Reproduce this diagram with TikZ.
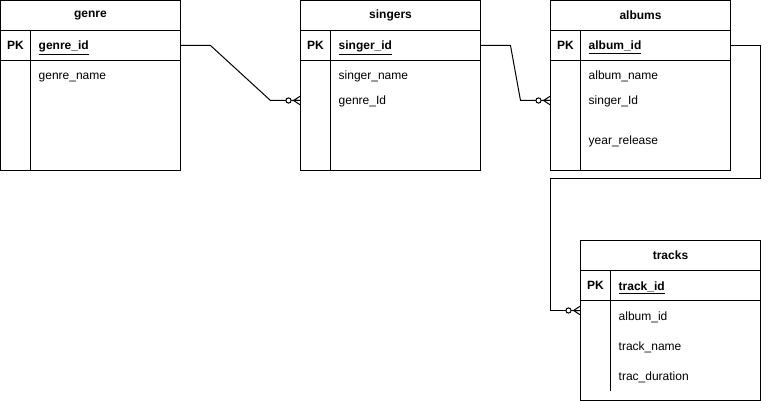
\documentclass[tikz,border=0pt]{standalone}
\usepackage{fontspec}
\setmainfont{Liberation Sans}
\usetikzlibrary{positioning,calc}

\tikzset{
  cell/.style={draw, line width=1pt, inner sep=0pt, outer sep=0pt,
               font=\fontsize{12}{14}\selectfont},
  title/.style={cell, minimum width=180pt, minimum height=30pt, font=\fontsize{12}{14}\selectfont\bfseries},
  pk/.style={cell, minimum width=30pt, minimum height=30pt, font=\fontsize{12}{14}\selectfont\bfseries},
  keycell/.style={cell, minimum width=150pt, minimum height=30pt},
  body/.style={cell, minimum width=180pt},
  field/.style={inner sep=0pt, anchor=base west, font=\fontsize{12}{14}\selectfont},
  keytxt/.style={field, font=\fontsize{12}{14}\selectfont\bfseries},
  link/.style={draw, line width=1pt},
  zeromany/.pic={
    \draw[line width=1pt, fill=white] (-12,0) circle (2.6pt);
    \draw[line width=1pt] (-7,0) -- (0,4.5) (-7,0) -- (0,-4.5) (-7,0) -- (0,0);
  }
}

\begin{document}
\begin{tikzpicture}[x=1pt, y=-1pt]
  \useasboundingbox (0,0) rectangle (769,401);

  % genre
  \node[title] (genre) at (90.5,15.5) {genre};
  \node[pk, below right=0pt and 0pt of genre.south west] (genre-pk) {PK};
  \node[keycell, right=0pt of genre-pk] (genre-key) {};
  \node[keytxt] at ([shift={(8,4.5)}]genre-key.west) {\underline{genre\_id}};
  \node[body, minimum height=110pt, below right=0pt and 0pt of genre-pk.south west] (genre-body) {};
  \draw[line width=1pt] (genre-pk.south east) -- (genre-pk.east |- genre-body.south);
  \node[field] (genre-f1) at ([shift={(38,19.5)}]genre-body.north west) {genre\_name};

  % singers
  \node[title] (singers) at (390.5,15.5) {singers};
  \node[pk, below right=0pt and 0pt of singers.south west] (singers-pk) {PK};
  \node[keycell, right=0pt of singers-pk] (singers-key) {};
  \node[keytxt] at ([shift={(8,4.5)}]singers-key.west) {\underline{singer\_id}};
  \node[body, minimum height=110pt, below right=0pt and 0pt of singers-pk.south west] (singers-body) {};
  \draw[line width=1pt] (singers-pk.south east) -- (singers-pk.east |- singers-body.south);
  \node[field] (singers-f1) at ([shift={(38,19.5)}]singers-body.north west) {singer\_name};
  \node[field] (singers-f2) at ([shift={(38,44.5)}]singers-body.north west) {genre\_Id};

  % albums
  \node[title] (albums) at (640.5,15.5) {albums};
  \node[pk, below right=0pt and 0pt of albums.south west] (albums-pk) {PK};
  \node[keycell, right=0pt of albums-pk] (albums-key) {};
  \node[keytxt] at ([shift={(8,4.5)}]albums-key.west) {\underline{album\_id}};
  \node[body, minimum height=110pt, below right=0pt and 0pt of albums-pk.south west] (albums-body) {};
  \draw[line width=1pt] (albums-pk.south east) -- (albums-pk.east |- albums-body.south);
  \node[field] (albums-f1) at ([shift={(38,19.5)}]albums-body.north west) {album\_name};
  \node[field] (albums-f2) at ([shift={(38,44.5)}]albums-body.north west) {singer\_Id};
  \node[field] (albums-f3) at ([shift={(38,84.5)}]albums-body.north west) {year\_release};

  % tracks
  \node[title] (tracks) at (670.5,255.5) {tracks};
  \node[pk, below right=0pt and 0pt of tracks.south west] (tracks-pk) {PK};
  \node[keycell, right=0pt of tracks-pk] (tracks-key) {};
  \node[keytxt] at ([shift={(8,4.5)}]tracks-key.west) {\underline{track\_id}};
  \node[body, minimum height=100pt, below right=0pt and 0pt of tracks-pk.south west] (tracks-body) {};
  \draw[line width=1pt] (tracks-pk.south east) -- ([shift={(0,-10)}]tracks-pk.east |- tracks-body.south);
  \node[field] (tracks-f1) at ([shift={(38,19.5)}]tracks-body.north west) {album\_id};
  \node[field] (tracks-f2) at ([shift={(38,49.5)}]tracks-body.north west) {track\_name};
  \node[field] (tracks-f3) at ([shift={(38,79.5)}]tracks-body.north west) {trac\_duration};

  % relations
  \coordinate (gs-end) at ([shift={(0,40)}]singers-body.north west);
  \coordinate (sa-end) at ([shift={(0,40)}]albums-body.north west);
  \coordinate (at-end) at ([shift={(0,10)}]tracks-body.north west);
  \coordinate (loop) at ([shift={(30,8)}]albums-body.south east);

  \path[link] (genre-key.east) -- ++(30,0) -- ([shift={(-30,0)}]gs-end) -- (gs-end);
  \path[link] (singers-key.east) -- ++(30,0) -- ([shift={(-30,0)}]sa-end) -- (sa-end);
  \path[link] (albums-key.east) -| (loop) -| ([shift={(-30,0)}]at-end) -- (at-end);

  \pic at (gs-end) {zeromany};
  \pic at (sa-end) {zeromany};
  \pic at (at-end) {zeromany};
\end{tikzpicture}
\end{document}
